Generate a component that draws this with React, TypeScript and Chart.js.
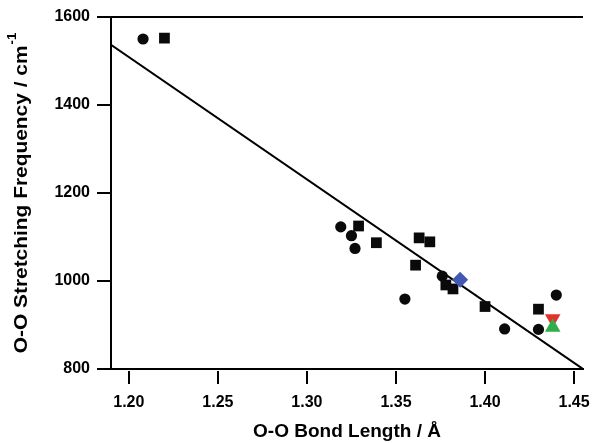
import React, { useEffect, useRef } from 'react';
import { Chart, registerables } from 'chart.js';

Chart.register(...registerables);

const X_TICKS = [1.2, 1.25, 1.3, 1.35, 1.4, 1.45];
const Y_TICKS = [800, 1000, 1200, 1400, 1600];

const circleX = [1.208, 1.319, 1.325, 1.327, 1.355, 1.376, 1.411, 1.43, 1.44];
const circleY = [1550, 1123, 1103, 1074, 959, 1011, 891, 890, 968];

const squareX = [1.22, 1.329, 1.339, 1.363, 1.369, 1.361, 1.378, 1.382, 1.4, 1.43];
const squareY = [1552, 1125, 1087, 1098, 1089, 1036, 991, 982, 942, 936];

const diamondX = [1.386];
const diamondY = [1003];

const redX = [1.438];
const redY = [914];

const greenX = [1.438];
const greenY = [895];

const fitX = [1.19, 1.455];
const fitY = [1537, 800];

const FONT = "'Liberation Sans', Arial, sans-serif";

const pts = (xs: number[], ys: number[]) => xs.map((x, i) => ({ x, y: ys[i] }));

const axesPlugin = {
  id: 'customAxes',
  afterDraw(chart: any) {
    const { ctx, chartArea, scales } = chart;
    const xs = scales.x;
    ctx.save();
    ctx.strokeStyle = '#000';
    ctx.lineWidth = 2;
    ctx.beginPath();
    ctx.moveTo(chartArea.left - 14, chartArea.top);
    ctx.lineTo(chartArea.right, chartArea.top);
    xs.ticks.forEach((_t: any, i: number) => {
      const px = Math.round(xs.getPixelForTick(i));
      ctx.moveTo(px, chartArea.bottom + 2);
      ctx.lineTo(px, chartArea.bottom + 15);
    });
    ctx.stroke();

    // y axis title with superscript
    const main = 'O-O Stretching Frequency / cm';
    const sup = '-1';
    const cy = (chartArea.top + chartArea.bottom) / 2;
    ctx.translate(27, cy);
    ctx.rotate(-Math.PI / 2);
    ctx.scale(1.1, 1);
    ctx.fillStyle = '#000';
    ctx.textBaseline = 'alphabetic';
    ctx.textAlign = 'left';
    ctx.font = `bold 19px ${FONT}`;
    const w1 = ctx.measureText(main).width;
    ctx.font = `bold 12px ${FONT}`;
    const w2 = ctx.measureText(sup).width;
    const start = -(w1 + w2 + 1) / 2;
    ctx.font = `bold 19px ${FONT}`;
    ctx.fillText(main, start, 0);
    ctx.font = `bold 12px ${FONT}`;
    ctx.fillText(sup, start + w1 + 1, -11);
    ctx.restore();
  },
};

export default function App() {
  const ref = useRef<HTMLCanvasElement | null>(null);

  useEffect(() => {
    if (!ref.current) return;
    const chart = new Chart(ref.current, {
      type: 'scatter',
      data: {
        datasets: [
          {
            label: 'green',
            data: pts(greenX, greenY),
            pointStyle: 'triangle',
            pointRadius: 9,
            backgroundColor: '#2fae4a',
            borderColor: '#2fae4a',
            borderWidth: 0,
            order: 0,
          },
          {
            label: 'red',
            data: pts(redX, redY),
            pointStyle: 'triangle',
            rotation: 180,
            pointRadius: 9,
            backgroundColor: '#e5312b',
            borderColor: '#e5312b',
            borderWidth: 0,
            order: 1,
          },
          {
            label: 'diamond',
            data: pts(diamondX, diamondY),
            pointStyle: 'rectRot',
            pointRadius: 8,
            backgroundColor: '#4358b0',
            borderColor: '#4358b0',
            borderWidth: 0,
            order: 2,
          },
          {
            label: 'squares',
            data: pts(squareX, squareY),
            pointStyle: 'rect',
            pointRadius: 7.6,
            backgroundColor: '#0a0a0a',
            borderColor: '#0a0a0a',
            borderWidth: 0,
            order: 3,
          },
          {
            label: 'circles',
            data: pts(circleX, circleY),
            pointStyle: 'circle',
            pointRadius: 5.6,
            backgroundColor: '#0a0a0a',
            borderColor: '#0a0a0a',
            borderWidth: 0,
            order: 4,
          },
          {
            label: 'fit',
            data: pts(fitX, fitY),
            showLine: true,
            pointRadius: 0,
            borderColor: '#000',
            borderWidth: 2,
            order: 5,
          } as any,
        ],
      },
      options: {
        animation: false,
        responsive: false,
        events: [],
        layout: { padding: { left: 0, right: 10, top: 17, bottom: 0 } },
        plugins: { legend: { display: false }, tooltip: { enabled: false } },
        scales: {
          x: {
            type: 'linear',
            min: 1.19,
            max: 1.455,
            afterBuildTicks: (s: any) => {
              s.ticks = X_TICKS.map((v) => ({ value: v }));
            },
            afterFit: (s: any) => {
              s.height = 74;
              s.paddingLeft = 0;
              s.paddingRight = 0;
            },
            grid: { display: false, drawTicks: false },
            border: { display: true, color: '#000', width: 2 },
            ticks: {
              color: '#000',
              padding: 24,
              maxRotation: 0,
              autoSkip: false,
              font: { family: FONT, size: 16, weight: 'bold' },
              callback: (v: any) => Number(v).toFixed(2),
            },
            title: {
              display: true,
              text: 'O-O Bond Length / Å',
              color: '#000',
              padding: { top: 0, bottom: 0 },
              font: { family: FONT, size: 19, weight: 'bold' },
            },
          },
          y: {
            type: 'linear',
            min: 800,
            max: 1600,
            afterBuildTicks: (s: any) => {
              s.ticks = Y_TICKS.map((v) => ({ value: v }));
            },
            afterFit: (s: any) => {
              s.width = 111;
              s.paddingTop = 0;
              s.paddingBottom = 0;
            },
            grid: {
              display: true,
              drawOnChartArea: false,
              drawTicks: true,
              tickLength: 14,
              color: '#000',
              lineWidth: 2,
            },
            border: { display: true, color: '#000', width: 2 },
            ticks: {
              color: '#000',
              padding: 7,
              autoSkip: false,
              font: { family: FONT, size: 16, weight: 'bold' },
              callback: (v: any) => String(v),
            },
            title: { display: false },
          },
        },
      } as any,
      plugins: [axesPlugin],
    });
    return () => chart.destroy();
  }, []);

  return (
    <div style={{ position: 'absolute', left: 0, top: 0, width: 593, height: 443, background: '#fff' }}>
      <canvas ref={ref} width={593} height={443} style={{ display: 'block' }} />
    </div>
  );
}
